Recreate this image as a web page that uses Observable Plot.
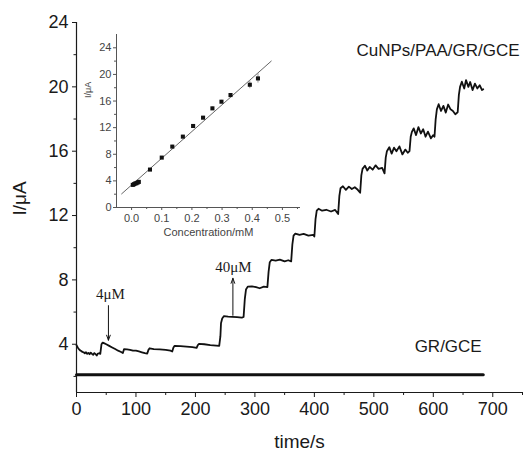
<!DOCTYPE html>
<html><head><meta charset="utf-8">
<script src="https://cdn.jsdelivr.net/npm/d3@7"></script>
<script src="https://cdn.jsdelivr.net/npm/@observablehq/plot@0.6"></script>
<style>
body{margin:0;background:#fff;}
#wrap{position:relative;width:524px;height:459px;overflow:hidden;}
#wrap svg{position:absolute;left:0;top:0;}
</style></head><body><div id="wrap"></div>
<script>
// ---- main amperometric curve (CuNPs/PAA/GR/GCE) ----
const time = [0,2,4,6,8,10,12,14,16,18,20,22,24,26,28,30,32,34,36,38,40,
  41,42,44,47,50,55,60,65,70,75,78,
  80,85,90,95,100,105,110,115,119,
  121,123,130,140,150,158,161,
  163,165,175,185,195,202,
  204,206,215,225,235,240,
  242,243,245,248,255,262,270,278,281,
  283,285,288,295,302,308,315,321,
  323,325,328,335,342,350,356,361,
  363,365,368,375,382,390,398,400,
  402,404,407,413,420,428,435,440,
  442,444,448,453,458,463,468,473,477,
  479,481,485,489,493,498,503,508,514,518,
  520,522,526,530,534,538,543,548,553,557,560,
  562,564,567,571,575,579,583,587,591,596,600,602,
  604,606,609,613,617,621,625,629,633,637,641,
  643,645,648,652,655,659,662,666,670,674,678,682,684];
const current = [3.95,3.8,3.7,3.62,3.58,3.52,3.5,3.44,3.5,3.4,3.46,3.38,3.48,3.4,3.34,3.45,3.38,3.3,3.42,3.44,3.4,
  3.7,4.0,4.1,4.05,4.0,3.9,3.8,3.7,3.6,3.52,3.45,
  3.7,3.68,3.65,3.6,3.6,3.55,3.5,3.45,3.42,
  3.65,3.75,3.7,3.68,3.65,3.6,3.55,
  3.8,3.9,3.88,3.85,3.82,3.78,
  3.95,4.02,4.0,3.95,3.92,3.9,
  4.5,5.3,5.6,5.75,5.72,5.7,5.68,5.65,5.7,
  6.8,7.4,7.58,7.6,7.55,7.48,7.58,7.55,
  8.5,9.1,9.25,9.2,9.26,9.15,9.22,9.15,
  10.2,10.75,10.88,10.8,10.86,10.75,10.8,10.7,
  11.8,12.3,12.42,12.3,12.36,12.25,12.35,12.1,
  13.2,13.7,13.82,13.6,13.8,13.65,13.76,13.6,13.42,
  14.5,14.9,15.1,14.8,15.02,14.85,15.12,14.9,14.96,14.62,
  15.6,16.0,16.25,15.85,16.22,16.0,16.3,15.8,16.1,15.9,16.0,
  16.9,17.2,17.42,17.0,17.5,17.1,17.36,16.9,17.22,16.8,17.0,16.9,
  18.0,18.6,18.92,18.5,18.82,18.4,18.9,18.6,18.5,18.3,18.42,
  19.5,20.0,20.32,19.9,20.42,20.0,20.3,19.8,20.2,19.9,20.1,19.8,19.85];

// ---- GR/GCE baseline ----
const grTime = [0, 684];
const grCurrent = [2.1, 2.1];

// ---- main axes ----
const xTicks = [0,100,200,300,400,500,600,700];
const xMinor = [50,150,250,350,450,550,650,750];
const yTicks = [4,8,12,16,20,24];
const yMinor = [2,6,10,14,18,22];

// ---- annotations (data units) ----
const curveLabels = ["CuNPs/PAA/GR/GCE", "GR/GCE"];
const curveLabelT = [608, 625];
const curveLabelI = [22.26, 3.86];
const addLabels = ["4\u03bcM", "40\u03bcM"];
const addLabelT = [57, 264];
const addLabelI = [7.1, 8.77];
const arrowT = [53.7, 263];
const arrowFrom = [6.4, 5.8];
const arrowTo = [4.25, 8.1];

// ---- inset calibration ----
const conc = [0.004,0.008,0.012,0.016,0.020,0.024,0.061,0.100,0.135,0.170,0.204,0.237,0.268,0.298,0.328,0.392,0.419];
const resp = [3.4,3.5,3.6,3.65,3.75,3.85,5.7,7.5,9.15,10.65,12.25,13.5,14.9,15.9,16.9,18.45,19.4];
const respErr = [0.1,0.1,0.1,0.1,0.1,0.1,0.15,0.15,0.2,0.2,0.2,0.2,0.2,0.2,0.2,0.6,0.7];
const fitConc = [-0.033, 0.463];
const fitResp = [2.05, 22.0];
const insetXTicks = [0.0,0.1,0.2,0.3,0.4,0.5];
const insetXMinor = [0.05,0.15,0.25,0.35,0.45,0.55];
const insetYTicks = [0,4,8,12,16,20,24];
const insetYMinor = [2,6,10,14,18,22];

const SANS = "'Liberation Sans', Arial, Helvetica, sans-serif";
const SERIF = "'Liberation Serif', 'Times New Roman', serif";
const INK = "#1a1a1a";

const mainData = time.map((t, i) => ({t, I: current[i]}));
const grData = grTime.map((t, i) => ({t, I: grCurrent[i]}));
const curveLab = curveLabels.map((s, i) => ({s, t: curveLabelT[i], I: curveLabelI[i]}));
const addLab = addLabels.map((s, i) => ({s, t: addLabelT[i], I: addLabelI[i]}));
const arrows = arrowT.map((t, i) => ({t, a: arrowFrom[i], b: arrowTo[i]}));
const insetData = conc.map((c, i) => ({c, I: resp[i], e: respErr[i]}));
const fitData = fitConc.map((c, i) => ({c, I: fitResp[i]}));

const main = Plot.plot({
  width: 524, height: 459,
  marginTop: 22, marginRight: 2, marginBottom: 67, marginLeft: 76,
  x: {domain: [0, 750]},
  y: {domain: [1, 24]},
  style: {fontFamily: SANS, fontSize: "18px", color: INK, background: "white"},
  marks: [
    Plot.ruleX([0], {stroke: INK, strokeWidth: 1.2}),
    Plot.ruleY([1], {stroke: INK, strokeWidth: 1.2}),
    Plot.axisX(xTicks, {tickSize: 5, tickPadding: 5, fontSize: 18, label: null, stroke: INK, fill: INK}),
    Plot.axisX(xMinor, {tickSize: 3, stroke: INK, fill: "none", label: null}),
    Plot.axisY(yTicks, {tickSize: 4, tickPadding: 4, fontSize: 18, label: null, stroke: INK, fill: INK}),
    Plot.axisY(yMinor, {tickSize: 2.5, stroke: INK, fill: "none", label: null}),
    Plot.line(grData, {x: "t", y: "I", stroke: "#111", strokeWidth: 3}),
    Plot.line(mainData, {x: "t", y: "I", stroke: "#111", strokeWidth: 1.8}),
    Plot.arrow(arrows, {x1: "t", x2: "t", y1: "a", y2: "b", stroke: "#111", strokeWidth: 1, headLength: 8, headAngle: 40}),
    Plot.text(curveLab, {x: "t", y: "I", text: "s", fontSize: 17, fill: INK}),
    Plot.text(addLab, {x: "t", y: "I", text: "s", fontSize: 15, fontFamily: SERIF, fill: INK}),
    Plot.text(["I/\u03bcA"], {text: d => d, frameAnchor: "left", dx: -57, dy: 8, rotate: -90, fontSize: 19, fill: INK}),
    Plot.text(["time/s"], {text: d => d, frameAnchor: "bottom", dy: 55, fontSize: 19, fill: INK})
  ]
});

const GRAY = "#444";
const inset = Plot.plot({
  width: 310, height: 245,
  marginTop: 34, marginRight: 10, marginBottom: 38, marginLeft: 116,
  x: {domain: [-0.05, 0.56]},
  y: {domain: [0, 26]},
  style: {fontFamily: SANS, fontSize: "11px", color: GRAY, background: "transparent", overflow: "visible"},
  marks: [
    Plot.ruleX([-0.05], {stroke: "#555", strokeWidth: 1}),
    Plot.ruleY([0], {stroke: "#555", strokeWidth: 1}),
    Plot.axisX(insetXTicks, {tickSize: 3, tickPadding: 4, fontSize: 11, label: null, tickFormat: d3.format(".1f"), stroke: "#555", fill: GRAY}),
    Plot.axisX(insetXMinor, {tickSize: 2, stroke: "#555", fill: "none", label: null}),
    Plot.axisY(insetYTicks, {tickSize: 3, tickPadding: 2, fontSize: 11, label: null, stroke: "#555", fill: GRAY}),
    Plot.axisY(insetYMinor, {tickSize: 2, stroke: "#555", fill: "none", label: null}),
    Plot.line(fitData, {x: "c", y: "I", stroke: "#666", strokeWidth: 1}),
    Plot.ruleX(insetData, {x: "c", y1: d => d.I - d.e, y2: d => d.I + d.e, stroke: "#999", strokeWidth: 1}),
    Plot.dot(insetData, {x: "c", y: "I", symbol: "square", r: 2.3, fill: "#111", stroke: "none"}),
    Plot.text(["Concentration/mM"], {text: d => d, frameAnchor: "bottom", dy: 28, fontSize: 11, fill: GRAY}),
    Plot.text(["I/\u03bcA"], {text: d => d, frameAnchor: "left", dx: -28, dy: -23, rotate: -90, fontSize: 9, fill: GRAY})
  ]
});

const wrap = document.getElementById("wrap");
wrap.appendChild(main);
wrap.appendChild(inset);
</script>
</body></html>
